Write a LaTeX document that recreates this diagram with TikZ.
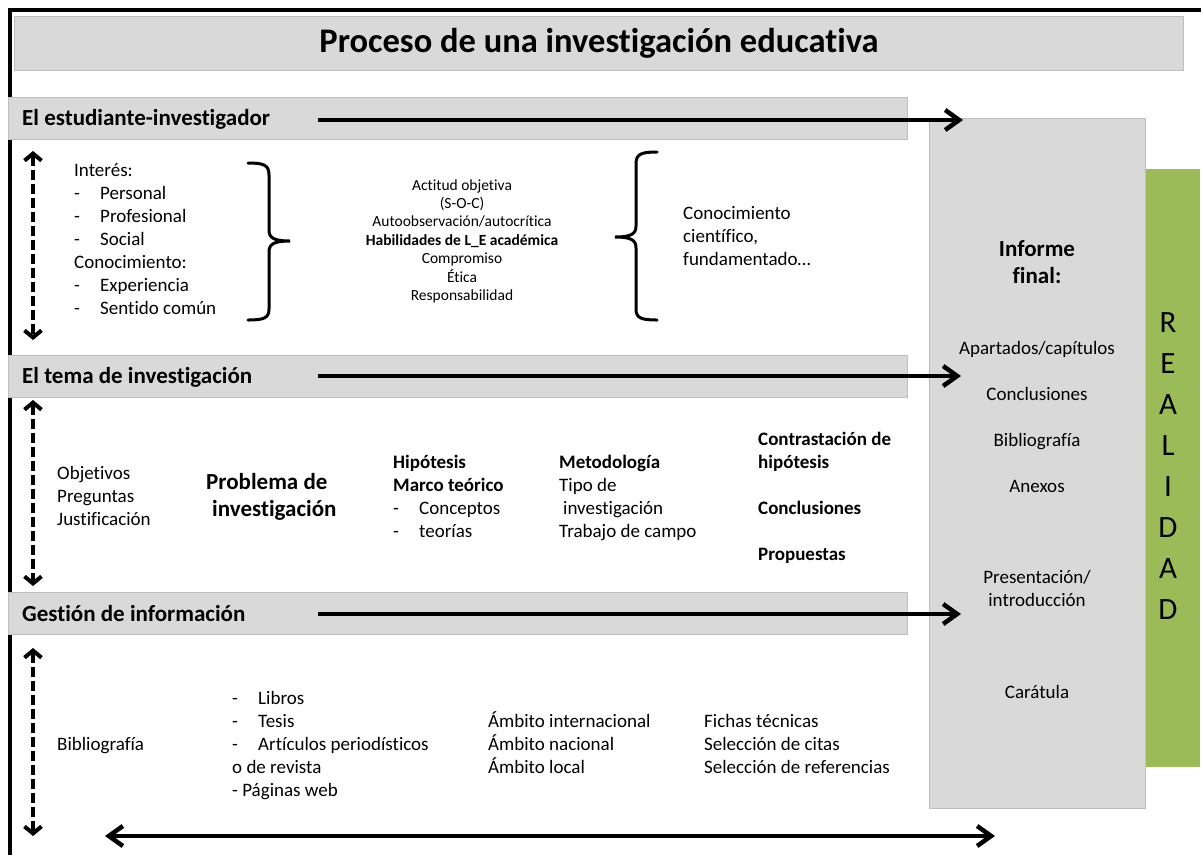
\documentclass[tikz,border=0pt]{standalone}
\usepackage{fontspec}
\setmainfont{Carlito}[Ligatures=NoCommon]
\usetikzlibrary{arrows.meta}
\definecolor{panelgray}{HTML}{D9D9D9}
\definecolor{panelline}{HTML}{BFBFBF}
\definecolor{realgreen}{HTML}{9BBB59}
\newcommand\listdash{\makebox[26pt][l]{-}}
\begin{document}
\begin{tikzpicture}
    [x=1pt,y=-1pt,
     panel/.style={fill=panelgray,draw=panelline,line width=1pt,inner sep=0pt,anchor=north west},
     head/.style={anchor=base west,inner sep=0pt,font=\fontsize{23}{27}\selectfont\bfseries},
     item/.style={anchor=base west,inner sep=0pt,font=\fontsize{19}{23}\selectfont},
     bitem/.style={item,font=\fontsize{19}{23}\selectfont\bfseries},
     small/.style={anchor=base,inner sep=0pt,font=\fontsize{15.5}{18}\selectfont},
     part/.style={anchor=base,inner sep=0pt,font=\fontsize{19}{23}\selectfont},
     flow/.style={line width=4.5pt,-{Straight Barb[length=14pt,width=20pt]}},
     loopback/.style={line width=4pt,dash pattern=on 10pt off 4pt,
       {Straight Barb[length=7pt,width=17pt]}-{Straight Barb[length=7pt,width=17pt]}},
     brace/.style={line width=3pt,line cap=round}]
    \useasboundingbox (0,0) rectangle (1201,855);
    \draw[line width=4pt] (8,10) -- (1201,10);
    \draw[line width=4pt] (10,8) -- (10,855);
    \node[panel,minimum width=1169pt,minimum height=54pt,
      font=\fontsize{34.5}{40}\selectfont\bfseries] (title) at (14,16)
      {Proceso de una investigación educativa};
    \node[panel,minimum width=899pt,minimum height=42pt] (bar1) at (8,97) {};
    \node[panel,minimum width=899pt,minimum height=42pt] (bar2) at (8,355) {};
    \node[panel,minimum width=899pt,minimum height=42pt] (bar3) at (8,592) {};
    \node[head] (head1) at (22,125) {El estudiante-investigador};
    \node[head] (head2) at (22,383) {El tema de investigación};
    \node[head] (head3) at (22,621) {Gestión de información};
    \node[fill=realgreen,inner sep=0pt,anchor=north west,
      minimum width=55pt,minimum height=598pt] (green) at (1145,169) {};
    \node[panel,minimum width=216pt,minimum height=690pt] (informe) at (929,118) {};

    \coordinate (from1) at (318,120);
    \coordinate (from2) at (318,376);
    \coordinate (from3) at (318,614);
    \draw[flow] (from1) -- ([xshift=34pt]from1 -| informe.west);
    \draw[flow] (from2) -- ([xshift=32pt]from2 -| informe.west);
    \draw[flow] (from3) -- ([xshift=32pt]from3 -| informe.west);
    \coordinate (back0) at (105,836);
    \coordinate (back1) at (995,836);
    \draw[flow,{Straight Barb[length=14pt,width=20pt]}-{Straight Barb[length=14pt,width=20pt]}]
      (back0) -- (back1);
    \coordinate (up1) at (33,151);
    \coordinate (down1) at (33,340);
    \coordinate (up2) at (33,400);
    \coordinate (down2) at (33,586);
    \coordinate (up3) at (33,648);
    \coordinate (down3) at (33,836);
    \draw[loopback] (up1) -- (down1);
    \draw[loopback] (up2) -- (down2);
    \draw[loopback] (up3) -- (down3);

    \foreach \t [count=\i from 0] in {Interés:,\listdash Personal,\listdash Profesional,
      \listdash Social,Conocimiento:,\listdash Experiencia,\listdash Sentido común}
      \node[item] (interes\i) at (74,176+23*\i) {\t};
    \draw[brace] (248,163) .. controls (264,163) and (269,165) .. (269,175)
      -- (269,230) .. controls (269,238) and (274,241) .. (290,241)
      .. controls (274,241) and (269,244) .. (269,252)
      -- (269,309) .. controls (269,318) and (264,320) .. (248,320);
    \foreach \t [count=\i from 0] in {Actitud objetiva,(S-O-C),Autoobservación/autocrítica,
      \textbf{Habilidades de L\_E académica},Compromiso,Ética,Responsabilidad}
      \node[small] (actitud\i) at (462,190+18.4*\i) {\t};
    \draw[brace] (657,152) .. controls (641,152) and (636,154) .. (636,164)
      -- (636,226) .. controls (636,234) and (631,237) .. (615,237)
      .. controls (631,237) and (636,240) .. (636,248)
      -- (636,309) .. controls (636,318) and (641,320) .. (657,320);
    \foreach \t [count=\i from 0] in {Conocimiento,{científico,},{fundamentado…}}
      \node[item] (ciencia\i) at (683,219+23*\i) {\t};

    \foreach \t [count=\i from 0] in {Objetivos,Preguntas,Justificación}
      \node[item] (objetivo\i) at (57,479+23*\i) {\t};
    \node[head] (problema0) at (206,489) {Problema de};
    \node[head] (problema1) at (212,516) {investigación};
    \node[bitem] (marco0) at (393,468) {Hipótesis};
    \node[bitem] (marco1) at (393,491) {Marco teórico};
    \node[item] (marco2) at (393,514) {\listdash Conceptos};
    \node[item] (marco3) at (393,537) {\listdash teorías};
    \node[bitem] (metodo0) at (559,468) {Metodología};
    \node[item] (metodo1) at (559,491) {Tipo de};
    \node[item] (metodo2) at (563,514) {investigación};
    \node[item] (metodo3) at (559,537) {Trabajo de campo};
    \node[bitem] (cierre0) at (758,445) {Contrastación de};
    \node[bitem] (cierre1) at (758,468) {hipótesis};
    \node[bitem] (cierre2) at (758,514) {Conclusiones};
    \node[bitem] (cierre3) at (758,560) {Propuestas};

    \node[item] (biblio) at (57,750) {Bibliografía};
    \foreach \t [count=\i from 0] in {\listdash Libros,\listdash Tesis,
      \listdash Artículos periodísticos,o de revista,- Páginas web}
      \node[item] (fuente\i) at (232,704+23*\i) {\t};
    \foreach \t [count=\i from 0] in {Ámbito internacional,Ámbito nacional,Ámbito local}
      \node[item] (ambito\i) at (488,727+23*\i) {\t};
    \foreach \t [count=\i from 0] in {Fichas técnicas,Selección de citas,Selección de referencias}
      \node[item] (ficha\i) at (704,727+23*\i) {\t};

    \node[anchor=base,inner sep=0pt,font=\fontsize{23}{27}\selectfont\bfseries]
      (final0) at (1037,256) {Informe};
    \node[anchor=base,inner sep=0pt,font=\fontsize{23}{27}\selectfont\bfseries]
      (final1) at (1037,283) {final:};
    \node[part] (part0) at (1037,354) {Apartados/capítulos};
    \node[part] (part1) at (1037,400) {Conclusiones};
    \node[part] (part2) at (1037,446) {Bibliografía};
    \node[part] (part3) at (1037,492) {Anexos};
    \node[part] (part4) at (1037,583) {Presentación/};
    \node[part] (part5) at (1037,606) {introducción};
    \node[part] (part6) at (1037,698) {Carátula};
    \foreach \l [count=\i from 0] in {R,E,A,L,I,D,A,D}
      \node[anchor=base,inner sep=0pt,font=\fontsize{31}{35}\selectfont]
        (real\i) at (1168,332+41*\i) {\l};
  \end{tikzpicture}
\end{document}
